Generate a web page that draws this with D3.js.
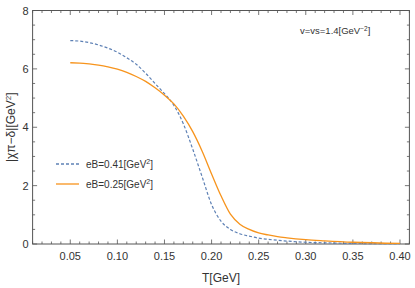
<!DOCTYPE html>
<html><head><meta charset="utf-8">
<script src="https://cdn.jsdelivr.net/npm/d3@7"></script>
<style>body{margin:0;background:#fff}svg{display:block}text{font-family:"Liberation Sans",Arial,sans-serif}</style>
</head><body><svg id="c" width="415" height="288"></svg>
<script>
const tBlue = [0.05,0.06,0.07,0.08,0.09,0.10,0.11,0.12,0.13,0.14,0.15,0.16,0.17,0.18,0.19,0.20,0.21,0.22,0.23,0.24,0.25,0.26,0.28,0.30,0.32,0.35,0.40];
const vBlue = [6.97,6.95,6.90,6.82,6.71,6.57,6.38,6.16,5.85,5.50,5.15,4.75,4.12,3.25,2.30,1.35,0.78,0.50,0.35,0.27,0.20,0.16,0.10,0.06,0.04,0.02,0.01];
const tOrange = [0.05,0.06,0.07,0.08,0.09,0.10,0.11,0.12,0.13,0.14,0.15,0.16,0.17,0.18,0.19,0.20,0.21,0.22,0.23,0.24,0.25,0.26,0.27,0.28,0.30,0.32,0.35,0.40];
const vOrange = [6.21,6.20,6.17,6.13,6.07,5.99,5.88,5.74,5.57,5.35,5.10,4.80,4.38,3.85,3.18,2.40,1.65,1.02,0.68,0.50,0.38,0.31,0.25,0.21,0.15,0.11,0.06,0.02];
const xMajor = [0.05,0.10,0.15,0.20,0.25,0.30,0.35,0.40];
const xMajorLabels = ["0.05","0.10","0.15","0.20","0.25","0.30","0.35","0.40"];
const yMajor = [0,2,4,6,8];
const legendLabels = ["eB=0.41[GeV²]","eB=0.25[GeV²]"];

const svg = d3.select("#c");
const x = d3.scaleLinear().domain([0.01,0.41]).range([32.6,409.4]);
const y = d3.scaleLinear().domain([0,8]).range([244,10.5]);
const frameCol = "#555", labCol = "#333";

// frame
svg.append("rect").attr("x",x(0.01)).attr("y",y(8)).attr("width",x(0.41)-x(0.01)).attr("height",y(0)-y(8))
  .attr("fill","none").attr("stroke",frameCol).attr("stroke-width",1);

const xMinor = d3.range(1,42).map(d=>d/100).filter(d=>!xMajor.some(m=>Math.abs(m-d)<1e-9));
const yMinor = d3.range(0,17).map(d=>d/2).filter(d=>d%2!==0);
const tk = svg.append("g").attr("stroke",frameCol).attr("stroke-width",0.8);
function xt(vals,len){vals.forEach(v=>{
  tk.append("line").attr("x1",x(v)).attr("x2",x(v)).attr("y1",y(0)).attr("y2",y(0)-len);
  tk.append("line").attr("x1",x(v)).attr("x2",x(v)).attr("y1",y(8)).attr("y2",y(8)+len);});}
function yt(vals,len){vals.forEach(v=>{
  tk.append("line").attr("y1",y(v)).attr("y2",y(v)).attr("x1",x(0.01)).attr("x2",x(0.01)+len);
  tk.append("line").attr("y1",y(v)).attr("y2",y(v)).attr("x1",x(0.41)).attr("x2",x(0.41)-len);});}
xt(xMajor,4.5); xt(xMinor,2.5); yt(yMajor,4.5); yt(yMinor,2.5);

svg.append("g").selectAll("text").data(xMajor).join("text")
  .attr("x",d=>x(d)).attr("y",y(0)+16).attr("text-anchor","middle").attr("font-size",11).attr("fill",labCol)
  .text((d,i)=>xMajorLabels[i]);
svg.append("g").selectAll("text").data(yMajor).join("text")
  .attr("x",x(0.01)-4).attr("y",d=>y(d)+4).attr("text-anchor","end").attr("font-size",11).attr("fill",labCol)
  .text(d=>d);

svg.append("text").attr("x",(x(0.01)+x(0.41))/2).attr("y",282).attr("text-anchor","middle").attr("font-size",12).attr("fill",labCol).text("T[GeV]");
const yl = svg.append("text").attr("transform",`translate(15,${(y(0)+y(8))/2}) rotate(-90)`).attr("text-anchor","middle").attr("font-size",12).attr("fill",labCol);
yl.append("tspan").text("|χπ−δ|[GeV");
yl.append("tspan").attr("dy",-4).attr("font-size",8).text("2");
yl.append("tspan").attr("dy",4).text("]");

const line = d3.line().x(d=>x(d[0])).y(d=>y(d[1])).curve(d3.curveMonotoneX);
const blueCol = "#5E81B5", orangeCol = "#F7941D";
svg.append("path").datum(d3.zip(tBlue,vBlue)).attr("d",line).attr("fill","none").attr("stroke",blueCol).attr("stroke-width",1.2).attr("stroke-dasharray","3,2");
svg.append("path").datum(d3.zip(tOrange,vOrange)).attr("d",line).attr("fill","none").attr("stroke",orangeCol).attr("stroke-width",1.3);

// legend
const lg = svg.append("g");
[[blueCol,"3,2",164],[orangeCol,null,184]].forEach((s,i)=>{
  lg.append("line").attr("x1",56).attr("x2",79).attr("y1",s[2]).attr("y2",s[2]).attr("stroke",s[0]).attr("stroke-width",1.3).attr("stroke-dasharray",s[1]);
  const t = lg.append("text").attr("x",86).attr("y",s[2]+3.5).attr("font-size",10).attr("fill",labCol);
  const parts = legendLabels[i].split("²");
  t.append("tspan").text(parts[0]); t.append("tspan").attr("dy",-3.5).attr("font-size",7).text("2"); t.append("tspan").attr("dy",3.5).text(parts[1]);
});

const an = svg.append("text").attr("x",300).attr("y",34).attr("font-size",9.5).attr("fill",labCol);
an.append("tspan").text("v=vs=1.4[GeV");
an.append("tspan").attr("dy",-3.5).attr("font-size",6.5).text("−2");
an.append("tspan").attr("dy",3.5).text("]");
</script></body></html>
